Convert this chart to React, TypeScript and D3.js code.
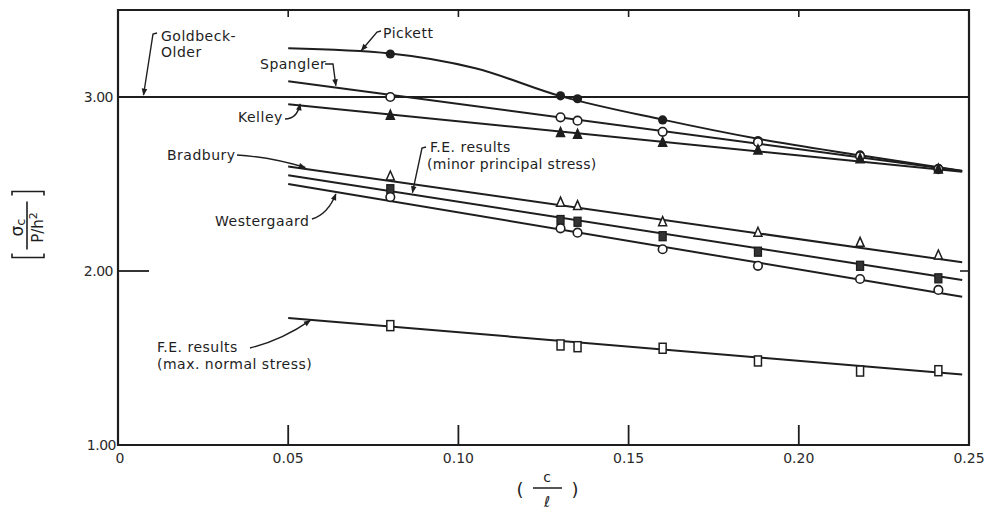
import React from 'react';
import * as d3 from 'd3';

const W = 985;
const H = 512;
const INK = '#1e1e1e';
const FONT = '"DejaVu Sans", sans-serif';

// c/l where the computed points sit
const pointX = [0.08, 0.13, 0.135, 0.16, 0.188, 0.218, 0.241];
const pickettPts = [3.247, 3.007, 2.99, 2.868, 2.75, 2.667, 2.59];
const spanglerPts = [3.0, 2.883, 2.864, 2.8, 2.74, 2.66, 2.585];
const kelleyPts = [2.89, 2.79, 2.78, 2.734, 2.69, 2.64, 2.58];
const bradburyPts = [2.54, 2.39, 2.37, 2.278, 2.217, 2.159, 2.086];
const feMinorPts = [2.47, 2.293, 2.283, 2.2, 2.111, 2.03, 1.958];
const westergaardPts = [2.425, 2.245, 2.22, 2.125, 2.03, 1.954, 1.891];
const feMaxPts = [1.686, 1.575, 1.565, 1.556, 1.483, 1.425, 1.427];

// theory lines
const lineX = [0.05, 0.248];
const spanglerLine = [3.09, 2.575];
const kelleyLine = [2.958, 2.57];
const bradburyLine = [2.6, 2.05];
const feMinorLine = [2.55, 1.948];
const westergaardLine = [2.5, 1.852];
const feMaxLine = [1.73, 1.405];
const goldbeckX = [0, 0.25];
const goldbeckLine = [3.0, 3.0];
const pickettCurveX = [0.05, 0.08, 0.105, 0.13, 0.16, 0.188, 0.218, 0.248];
const pickettCurve = [3.28, 3.25, 3.165, 3.005, 2.87, 2.76, 2.665, 2.575];

const xTicks = [0, 0.05, 0.1, 0.15, 0.2, 0.25];
const xTickLabels = ['0', '0.05', '0.10', '0.15', '0.20', '0.25'];
const yTicks = [1, 2, 3];
const yTickLabels = ['1.00', '2.00', '3.00'];

const x = d3.scaleLinear().domain([0, 0.25]).range([118, 969]);
const y = d3.scaleLinear().domain([1, 3.5]).range([445, 10]);

const lineGen = d3
  .line<[number, number]>()
  .x((d) => x(d[0]))
  .y((d) => y(d[1]));
const curveGen = d3
  .line<[number, number]>()
  .x((d) => x(d[0]))
  .y((d) => y(d[1]))
  .curve(d3.curveMonotoneX);

const zip = (xs: number[], ys: number[]) =>
  xs.map((v, i) => [v, ys[i]] as [number, number]);

// value on a straight line at c/l
const onLine = (vals: number[], v: number) =>
  vals[0] + ((vals[1] - vals[0]) * (v - lineX[0])) / (lineX[1] - lineX[0]);

type Shape = 'dot' | 'ring' | 'tri' | 'otri' | 'sq' | 'osq';

function Marker({ cx, cy, shape }: { cx: number; cy: number; shape: Shape }) {
  if (shape === 'dot')
    return <circle cx={cx} cy={cy} r={4.6} fill={INK} />;
  if (shape === 'ring')
    return <circle cx={cx} cy={cy} r={4.3} fill="#fff" stroke={INK} strokeWidth={1.6} />;
  if (shape === 'tri' || shape === 'otri')
    return (
      <path
        d={`M${cx},${cy - 6} L${cx + 4},${cy + 3} L${cx - 4},${cy + 3} Z`}
        fill={shape === 'tri' ? INK : '#fff'}
        stroke={INK}
        strokeWidth={1.5}
      />
    );
  if (shape === 'sq')
    return <rect x={cx - 3.5} y={cy - 4.5} width={7} height={9} fill="#333" stroke={INK} strokeWidth={1.3} />;
  return <rect x={cx - 3.5} y={cy - 5} width={7} height={10} fill="#fff" stroke={INK} strokeWidth={1.5} />;
}

const lines = [
  { id: 'spangler', vals: spanglerLine, pts: spanglerPts, shape: 'ring' as Shape },
  { id: 'kelley', vals: kelleyLine, pts: kelleyPts, shape: 'tri' as Shape },
  { id: 'bradbury', vals: bradburyLine, pts: bradburyPts, shape: 'otri' as Shape },
  { id: 'feMinor', vals: feMinorLine, pts: feMinorPts, shape: 'sq' as Shape },
  { id: 'westergaard', vals: westergaardLine, pts: westergaardPts, shape: 'ring' as Shape },
  { id: 'feMax', vals: feMaxLine, pts: feMaxPts, shape: 'osq' as Shape },
];

export default function App() {
  const x0 = x(0);
  const x1 = x(0.25);
  const yb = y(1);
  const yt = y(3.5);

  // arrow tips on the curves
  const tipPickett = [x(0.0715), y(3.256) - 2];
  const tipSpangler = [x(0.064), y(onLine(spanglerLine, 0.064)) - 2];
  const tipKelley = [x(0.0535), y(onLine(kelleyLine, 0.0535)) - 1.5];
  const tipBradbury = [x(0.055), y(onLine(bradburyLine, 0.055)) - 1.5];
  const tipFeMinor = [x(0.0865), y(onLine(feMinorLine, 0.0865)) - 2];
  const tipWester = [x(0.064), y(onLine(westergaardLine, 0.064)) + 2];
  const tipFeMax = [x(0.0565), y(onLine(feMaxLine, 0.0565)) + 0.5];
  const tipGold = [x(0.0075), y(3.0) - 2];

  const txt = { fontFamily: FONT, fontSize: 14, letterSpacing: 0.5, fill: INK } as const;
  const tick = { fontFamily: FONT, fontSize: 14, fill: '#2a2a2a' } as const;

  return (
    <svg
      width={W}
      height={H}
      style={{ position: 'absolute', left: 0, top: 0, background: '#fff' }}
    >
      <defs>
        <marker
          id="arr"
          viewBox="0 0 10 10"
          refX="9"
          refY="5"
          markerWidth="9"
          markerHeight="7"
          orient="auto"
          markerUnits="userSpaceOnUse"
        >
          <path d="M0,1 L10,5 L0,9 Z" fill={INK} />
        </marker>
      </defs>

      {/* frame */}
      <path
        d={`M${x0},${yt} L${x1},${yt} L${x1},${yb} L${x0},${yb} Z`}
        fill="none"
        stroke={INK}
        strokeWidth={2.2}
      />
      {xTicks.slice(1, -1).map((t) => (
        <g key={t}>
          <line x1={x(t)} x2={x(t)} y1={yb} y2={yb - 20} stroke={INK} strokeWidth={1.8} />
          <line x1={x(t)} x2={x(t)} y1={yt} y2={yt + 7} stroke={INK} strokeWidth={1.6} />
        </g>
      ))}
      <line x1={x0} x2={x0 + 31} y1={y(2)} y2={y(2)} stroke={INK} strokeWidth={1.8} />
      <line x1={x1} x2={x1 - 9} y1={y(2)} y2={y(2)} stroke={INK} strokeWidth={1.6} />

      {xTickLabels.map((l, i) => (
        <text key={l} x={x(xTicks[i]) + (i === 0 ? 2 : 0)} y={463} textAnchor="middle" {...tick}>
          {l}
        </text>
      ))}
      {yTickLabels.map((l, i) => (
        <text
          key={l}
          x={i === 0 ? x0 - 2 : x0 - 5}
          y={y(yTicks[i]) + 5}
          textAnchor="end"
          letterSpacing={-0.5}
          {...tick}
        >
          {l}
        </text>
      ))}

      {/* axis titles */}
      <g transform="translate(28,224.5) rotate(-90)" fill={INK} fontFamily={FONT}>
        <path d="M-29,-16 L-33,-16 L-33,16 L-29,16" fill="none" stroke={INK} strokeWidth={1.6} />
        <path d="M29,-16 L33,-16 L33,16 L29,16" fill="none" stroke={INK} strokeWidth={1.6} />
        <line x1={-25} x2={23} y1={-1} y2={-1} stroke={INK} strokeWidth={1.6} />
        <text x={-3} y={-5} textAnchor="middle" fontSize={17}>
          σ<tspan fontSize={13} dy={2}>c</tspan>
        </text>
        <text x={-3} y={15} textAnchor="middle" fontSize={15}>
          P/h<tspan fontSize={11} dy={-6}>2</tspan>
        </text>
      </g>
      <g fill={INK} fontFamily={FONT}>
        <text x={520} y={496} textAnchor="middle" fontSize={18}>(</text>
        <text x={575} y={496} textAnchor="middle" fontSize={18}>)</text>
        <text x={547} y={482} textAnchor="middle" fontSize={14}>c</text>
        <line x1={533} x2={562} y1={488} y2={488} stroke={INK} strokeWidth={1.5} />
        <text x={547} y={507} textAnchor="middle" fontSize={15}>ℓ</text>
      </g>

      {/* curves */}
      <path d={lineGen(zip(goldbeckX, goldbeckLine)) || ''} fill="none" stroke={INK} strokeWidth={2.2} />
      <path d={curveGen(zip(pickettCurveX, pickettCurve)) || ''} fill="none" stroke={INK} strokeWidth={2} />
      {lines.map((s) => (
        <path key={s.id} d={lineGen(zip(lineX, s.vals)) || ''} fill="none" stroke={INK} strokeWidth={2} />
      ))}

      {/* points */}
      {pointX.map((v, i) => (
        <Marker key={'p' + i} cx={x(v)} cy={y(pickettPts[i])} shape="dot" />
      ))}
      {lines.map((s) =>
        pointX.map((v, i) => (
          <Marker key={s.id + i} cx={x(v)} cy={y(s.pts[i])} shape={s.shape} />
        )),
      )}

      {/* labels and leaders */}
      <g fill="none" stroke={INK} strokeWidth={1.4}>
        <path d={`M157,33 L153,34 L${tipGold[0]},${tipGold[1]}`} markerEnd="url(#arr)" />
        <path d={`M381,31 L377,32 L${tipPickett[0]},${tipPickett[1]}`} markerEnd="url(#arr)" />
        <path d={`M325,64 L333,64 L${tipSpangler[0]},${tipSpangler[1]}`} markerEnd="url(#arr)" />
        <path d={`M285,119 Q297,119 ${tipKelley[0]},${tipKelley[1]}`} markerEnd="url(#arr)" />
        <path d={`M237,155 Q270,157 ${tipBradbury[0]},${tipBradbury[1]}`} markerEnd="url(#arr)" />
        <path d={`M426,147 L422,148 L${tipFeMinor[0]},${tipFeMinor[1]}`} markerEnd="url(#arr)" />
        <path d={`M312,219 Q328,214 ${tipWester[0]},${tipWester[1]}`} markerEnd="url(#arr)" />
        <path d={`M250,348 Q282,340 ${tipFeMax[0]},${tipFeMax[1]}`} markerEnd="url(#arr)" />
      </g>
      <text x={161} y={41} {...txt}>Goldbeck-</text>
      <text x={161} y={57} {...txt}>Older</text>
      <text x={383} y={38} {...txt}>Pickett</text>
      <text x={260} y={69} {...txt}>Spangler</text>
      <text x={238} y={122} {...txt}>Kelley</text>
      <text x={167} y={160} {...txt}>Bradbury</text>
      <text x={430} y={152} {...txt}>F.E. results</text>
      <text x={427} y={169} {...txt} letterSpacing={0.3}>(minor principal stress)</text>
      <text x={215} y={226} {...txt}>Westergaard</text>
      <text x={157} y={352} {...txt}>F.E. results</text>
      <text x={157} y={369} {...txt}>(max. normal stress)</text>
    </svg>
  );
}
